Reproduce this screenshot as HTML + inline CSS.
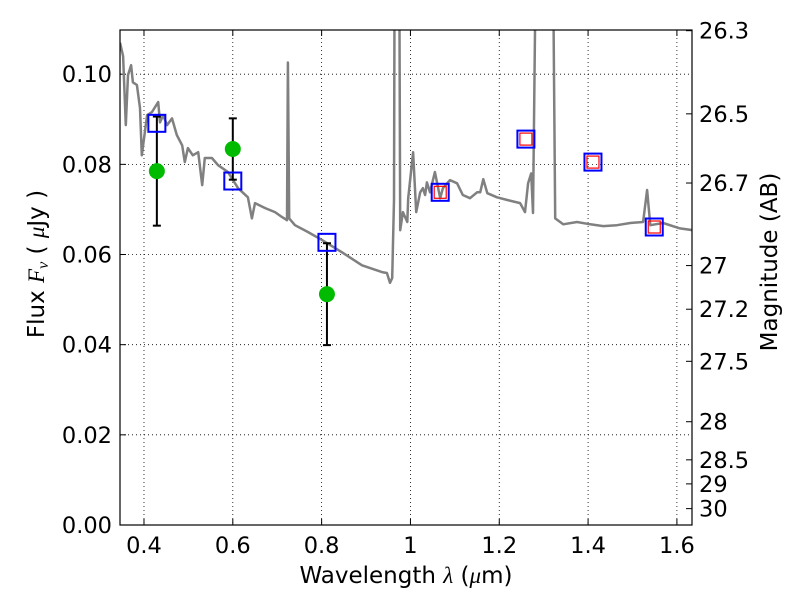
<!DOCTYPE html>
<html><head><meta charset="utf-8">
<style>
html,body{margin:0;padding:0;background:#fff;}
svg{display:block;font-family:"DejaVu Sans","Liberation Sans",sans-serif;}
</style></head>
<body>
<svg id="chart" width="800" height="600" viewBox="0 0 800 600" xmlns="http://www.w3.org/2000/svg"></svg>
<script>
// ---- data ----
const specLam = [0.346,0.353,0.359,0.364,0.371,0.375,0.384,0.391,0.395,0.407,0.418,0.432,0.436,0.443,0.452,0.463,0.474,0.486,0.492,0.499,0.510,0.522,0.531,0.537,0.553,0.567,0.589,0.612,0.634,0.643,0.650,0.673,0.695,0.711,0.722,0.724,0.727,0.740,0.769,0.801,0.846,0.891,0.936,0.947,0.954,0.959,0.963,0.965,0.974,0.977,0.983,0.993,0.995,1.006,1.013,1.022,1.028,1.033,1.037,1.044,1.055,1.067,1.073,1.089,1.105,1.118,1.134,1.150,1.157,1.164,1.173,1.195,1.218,1.247,1.258,1.265,1.272,1.276,1.285,1.319,1.326,1.344,1.375,1.405,1.434,1.465,1.495,1.524,1.533,1.540,1.569,1.607,1.636];
const specFlux = [0.107,0.104,0.0887,0.0998,0.102,0.0982,0.0976,0.0925,0.082,0.0909,0.0916,0.0938,0.0893,0.0909,0.0887,0.0902,0.0865,0.0842,0.0805,0.0836,0.0820,0.0827,0.0754,0.0814,0.0814,0.0798,0.0783,0.0747,0.0727,0.0680,0.0714,0.0703,0.0694,0.0683,0.0676,0.1026,0.0680,0.0665,0.0650,0.0632,0.0605,0.0576,0.0561,0.0559,0.0537,0.0548,0.0721,0.15,0.15,0.0654,0.0694,0.0672,0.0725,0.0827,0.0694,0.0738,0.0747,0.0732,0.0760,0.0738,0.0783,0.0725,0.0747,0.0765,0.0758,0.0732,0.0725,0.0738,0.0738,0.0767,0.0736,0.0727,0.0721,0.0714,0.0694,0.0758,0.0780,0.0692,0.15,0.15,0.0680,0.0667,0.0672,0.0667,0.0663,0.0665,0.0670,0.0672,0.0743,0.0665,0.0670,0.0658,0.0654];
const modelLam = [0.429,0.600,0.812,1.067,1.260,1.411,1.549];
const modelFlux = [0.0891,0.0763,0.0627,0.0738,0.0856,0.0805,0.0661];
const redLam = [1.067,1.260,1.411,1.549];
const redFlux = [0.0738,0.0856,0.0805,0.0661];
const obsLam = [0.429,0.600,0.812];
const obsFlux = [0.0785,0.0834,0.0512];
const obsErr = [0.0121,0.0068,0.0113];
const xTicks = [0.4,0.6,0.8,1.0,1.2,1.4,1.6];
const xTickLabels = ["0.4","0.6","0.8","1","1.2","1.4","1.6"];
const yTicks = [0,0.02,0.04,0.06,0.08,0.10];
const yTickLabels = ["0.00","0.02","0.04","0.06","0.08","0.10"];
const magTicks = [26.3,26.5,26.7,27,27.2,27.5,28,28.5,29,30];
const magTickLabels = ["26.3","26.5","26.7","27","27.2","27.5","28","28.5","29","30"];

// ---- geometry ----
const L=120,R=692,T=30,B=525;
const xMin=0.346,xMax=1.634,yMin=0,yMax=0.1098;
const sx=v=>L+(v-xMin)/(xMax-xMin)*(R-L);
const sy=v=>B-(v-yMin)/(yMax-yMin)*(B-T);
const NS="http://www.w3.org/2000/svg";
const svg=document.getElementById('chart');
function el(tag,attrs,parent){const e=document.createElementNS(NS,tag);for(const k in attrs)e.setAttribute(k,attrs[k]);(parent||svg).appendChild(e);return e;}

const defs=el('defs',{});
const cp=el('clipPath',{id:'clip'},defs);
el('rect',{x:L,y:T,width:R-L,height:B-T},cp);

xTicks.forEach((v,i)=>{
  const x=sx(v);
  const g=el('line',{x1:x,x2:x,y1:T,y2:B,stroke:'#000','stroke-width':0.8,'stroke-dasharray':'1,3'});
  
  
  el('line',{x1:x,x2:x,y1:B,y2:B-6,stroke:'#000','stroke-width':1});
  el('line',{x1:x,x2:x,y1:T,y2:T+6,stroke:'#000','stroke-width':1});
  const t=el('text',{x:x,y:B+28,'text-anchor':'middle','font-size':22.5});
  t.textContent=xTickLabels[i];
  
  
});
yTicks.forEach((v,i)=>{
  const y=sy(v);
  const g=el('line',{x1:L,x2:R,y1:y,y2:y,stroke:'#000','stroke-width':0.8,'stroke-dasharray':'1,3'});
  
  
  el('line',{x1:L,x2:L+6,y1:y,y2:y,stroke:'#000','stroke-width':1});
  const t=el('text',{x:L-8,y:y+8,'text-anchor':'end','font-size':22.5});
  t.textContent=yTickLabels[i];
  
  
});
magTicks.forEach((m,i)=>{
  const f=Math.pow(10,(23.9-m)/2.5);
  const y=sy(f);
  el('line',{x1:R-6,x2:R,y1:y,y2:y,stroke:'#000','stroke-width':1});
  const t=el('text',{x:R+7,y:y+8,'text-anchor':'start','font-size':22.5});
  t.textContent=magTickLabels[i];
  
  
});

const clipG=el('g',{'clip-path':'url(#clip)'});
const pts=specLam.map((l,i)=>sx(l).toFixed(1)+','+sy(specFlux[i]).toFixed(1)).join(' ');
const sp=el('polyline',{points:pts,fill:'none',stroke:'#808080','stroke-width':2.5,'stroke-linejoin':'round'},clipG);



obsLam.forEach((l,i)=>{
  const x=sx(l),y1=sy(obsFlux[i]+obsErr[i]),y2=sy(obsFlux[i]-obsErr[i]);
  const g=el('g',{stroke:'#000','stroke-width':2});
  
  
  el('line',{x1:x,x2:x,y1:y1,y2:y2},g);
  el('line',{x1:x-4,x2:x+4,y1:y1,y2:y1},g);
  el('line',{x1:x-4,x2:x+4,y1:y2,y2:y2},g);
});
modelLam.forEach((l,i)=>{
  const r=el('rect',{x:sx(l)-8.5,y:sy(modelFlux[i])-8.5,width:17,height:17,fill:'none',stroke:'#0000ff','stroke-width':2});
  
  
});
redLam.forEach((l,i)=>{
  const r=el('rect',{x:sx(l)-6,y:sy(redFlux[i])-6,width:12,height:12,fill:'none',stroke:'#ff0000','stroke-width':1.2});
  
  
});
obsLam.forEach((l,i)=>{
  const c=el('circle',{cx:sx(l),cy:sy(obsFlux[i]),r:8,fill:'#00bb00'});
  
  
});

const fr=el('rect',{x:L,y:T,width:R-L,height:B-T,fill:'none',stroke:'#000','stroke-width':1.2});



const xt=el('text',{x:406,y:583,'text-anchor':'middle','font-size':23});


xt.setAttribute('xml:space','preserve');
xt.innerHTML='Wavelength  <tspan font-family="Liberation Serif, serif" font-style="italic">λ</tspan> (<tspan font-family="Liberation Serif, serif" font-style="italic">μ</tspan>m)';
const yt=el('text',{x:0,y:0,'text-anchor':'middle','font-size':23,transform:'translate(44,264) rotate(-90)'});


yt.setAttribute('xml:space','preserve');
yt.innerHTML='Flux  <tspan font-family="Liberation Serif, serif" font-style="italic">F<tspan font-size="16" dy="4">ν</tspan></tspan><tspan dy="-4">  (  </tspan><tspan font-family="Liberation Serif, serif" font-style="italic">μ</tspan>Jy )';
const rt=el('text',{x:0,y:0,'text-anchor':'middle','font-size':23,transform:'translate(777,262) rotate(-90)'});


rt.textContent='Magnitude (AB)';
</script>
</body></html>
